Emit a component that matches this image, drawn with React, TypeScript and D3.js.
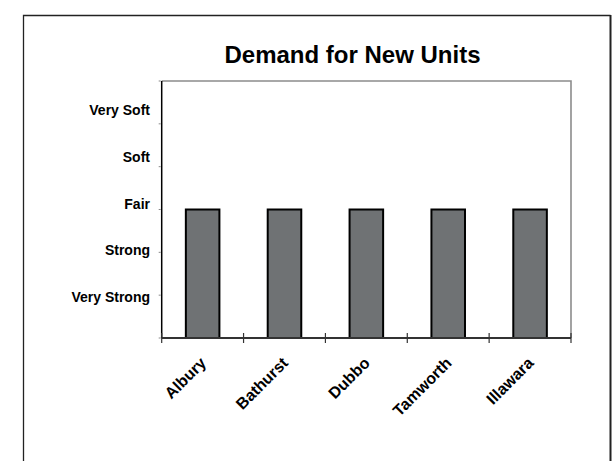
import React from "react";
import * as d3 from "d3";

const categories = ["Albury", "Bathurst", "Dubbo", "Tamworth", "Illawara"];
const values = [3, 3, 3, 3, 3];
const levelLabels = ["Very Strong", "Strong", "Fair", "Soft", "Very Soft"];
const levelValues = [1, 2, 3, 4, 5];
const yTicks = [0, 1, 2, 3, 4, 5, 6];
const title = "Demand for New Units";

const W = 614;
const H = 461;
const plot = { left: 161.7, right: 571, top: 81, bottom: 338 };
const FONT = "'Liberation Sans', Arial, Helvetica, sans-serif";

export default function App() {
  const x = d3
    .scaleBand<string>()
    .domain(categories)
    .range([plot.left, plot.right])
    .paddingInner(0.59)
    .paddingOuter(0.295);
  const bandStep = (plot.right - plot.left) / categories.length;
  const xEdges = d3.range(categories.length + 1).map((i) => plot.left + i * bandStep);
  const y = d3.scaleLinear().domain([0, 6]).range([plot.bottom, plot.top]);
  // labels sit in a separate text box in the original, spaced slightly differently
  const yLab = d3.scaleLinear().domain([1, 5]).range([297, 110]);

  return (
    <svg
      width={W}
      height={H}
      style={{ position: "absolute", left: 0, top: 0, display: "block", background: "#fff" }}
    >
      {/* outer chart border */}
      <path d={`M23.5,${H + 5} V15.5 H610.5`} fill="none" stroke="#222" strokeWidth={1.3} />
      <line x1={610.5} y1={15} x2={610.5} y2={H + 5} stroke="#222" strokeWidth={2} />

      <text
        x={352.5}
        y={62.5}
        textAnchor="middle"
        fontFamily={FONT}
        fontWeight="bold"
        fontSize={24}
        fill="#000"
      >
        {title}
      </text>

      {/* plot area border (top, right) */}
      <path
        d={`M${plot.left},${plot.top} H${plot.right} V${plot.bottom}`}
        fill="none"
        stroke="#8c8c8c"
        strokeWidth={1.6}
      />

      {/* bars */}
      {categories.map((c, i) => (
        <rect
          key={c}
          x={x(c)!}
          y={y(values[i])}
          width={x.bandwidth()}
          height={y(0) - y(values[i])}
          fill="#6f7274"
          stroke="#000"
          strokeWidth={2}
        />
      ))}

      {/* y axis */}
      <line x1={plot.left} y1={plot.top} x2={plot.left} y2={plot.bottom} stroke="#000" strokeWidth={1.5} />
      {yTicks.map((t) => (
        <line key={t} x1={plot.left - 3} x2={plot.left - 1} y1={y(t)} y2={y(t)} stroke="#888" strokeWidth={1} />
      ))}
      {levelLabels.map((l, i) => (
        <text
          key={l}
          x={150}
          y={yLab(levelValues[i])}
          dy="0.36em"
          textAnchor="end"
          fontFamily={FONT}
          fontWeight="bold"
          fontSize={14}
          fill="#000"
        >
          {l}
        </text>
      ))}

      {/* x axis */}
      <line x1={plot.left} y1={plot.bottom} x2={plot.right} y2={plot.bottom} stroke="#333" strokeWidth={2} />
      {xEdges.map((e, i) => (
        <line key={i} x1={e} x2={e} y1={plot.bottom - 5} y2={plot.bottom + 5} stroke="#333" strokeWidth={1.2} />
      ))}
      {categories.map((c) => {
        const cx = x(c)! + x.bandwidth() / 2 + 4.5;
        const cy = plot.bottom + 26;
        return (
          <text
            key={c}
            x={cx}
            y={cy}
            textAnchor="end"
            transform={`rotate(-45 ${cx} ${cy})`}
            fontFamily={FONT}
            fontWeight="bold"
            fontSize={16}
            fill="#000"
          >
            {c}
          </text>
        );
      })}
    </svg>
  );
}
